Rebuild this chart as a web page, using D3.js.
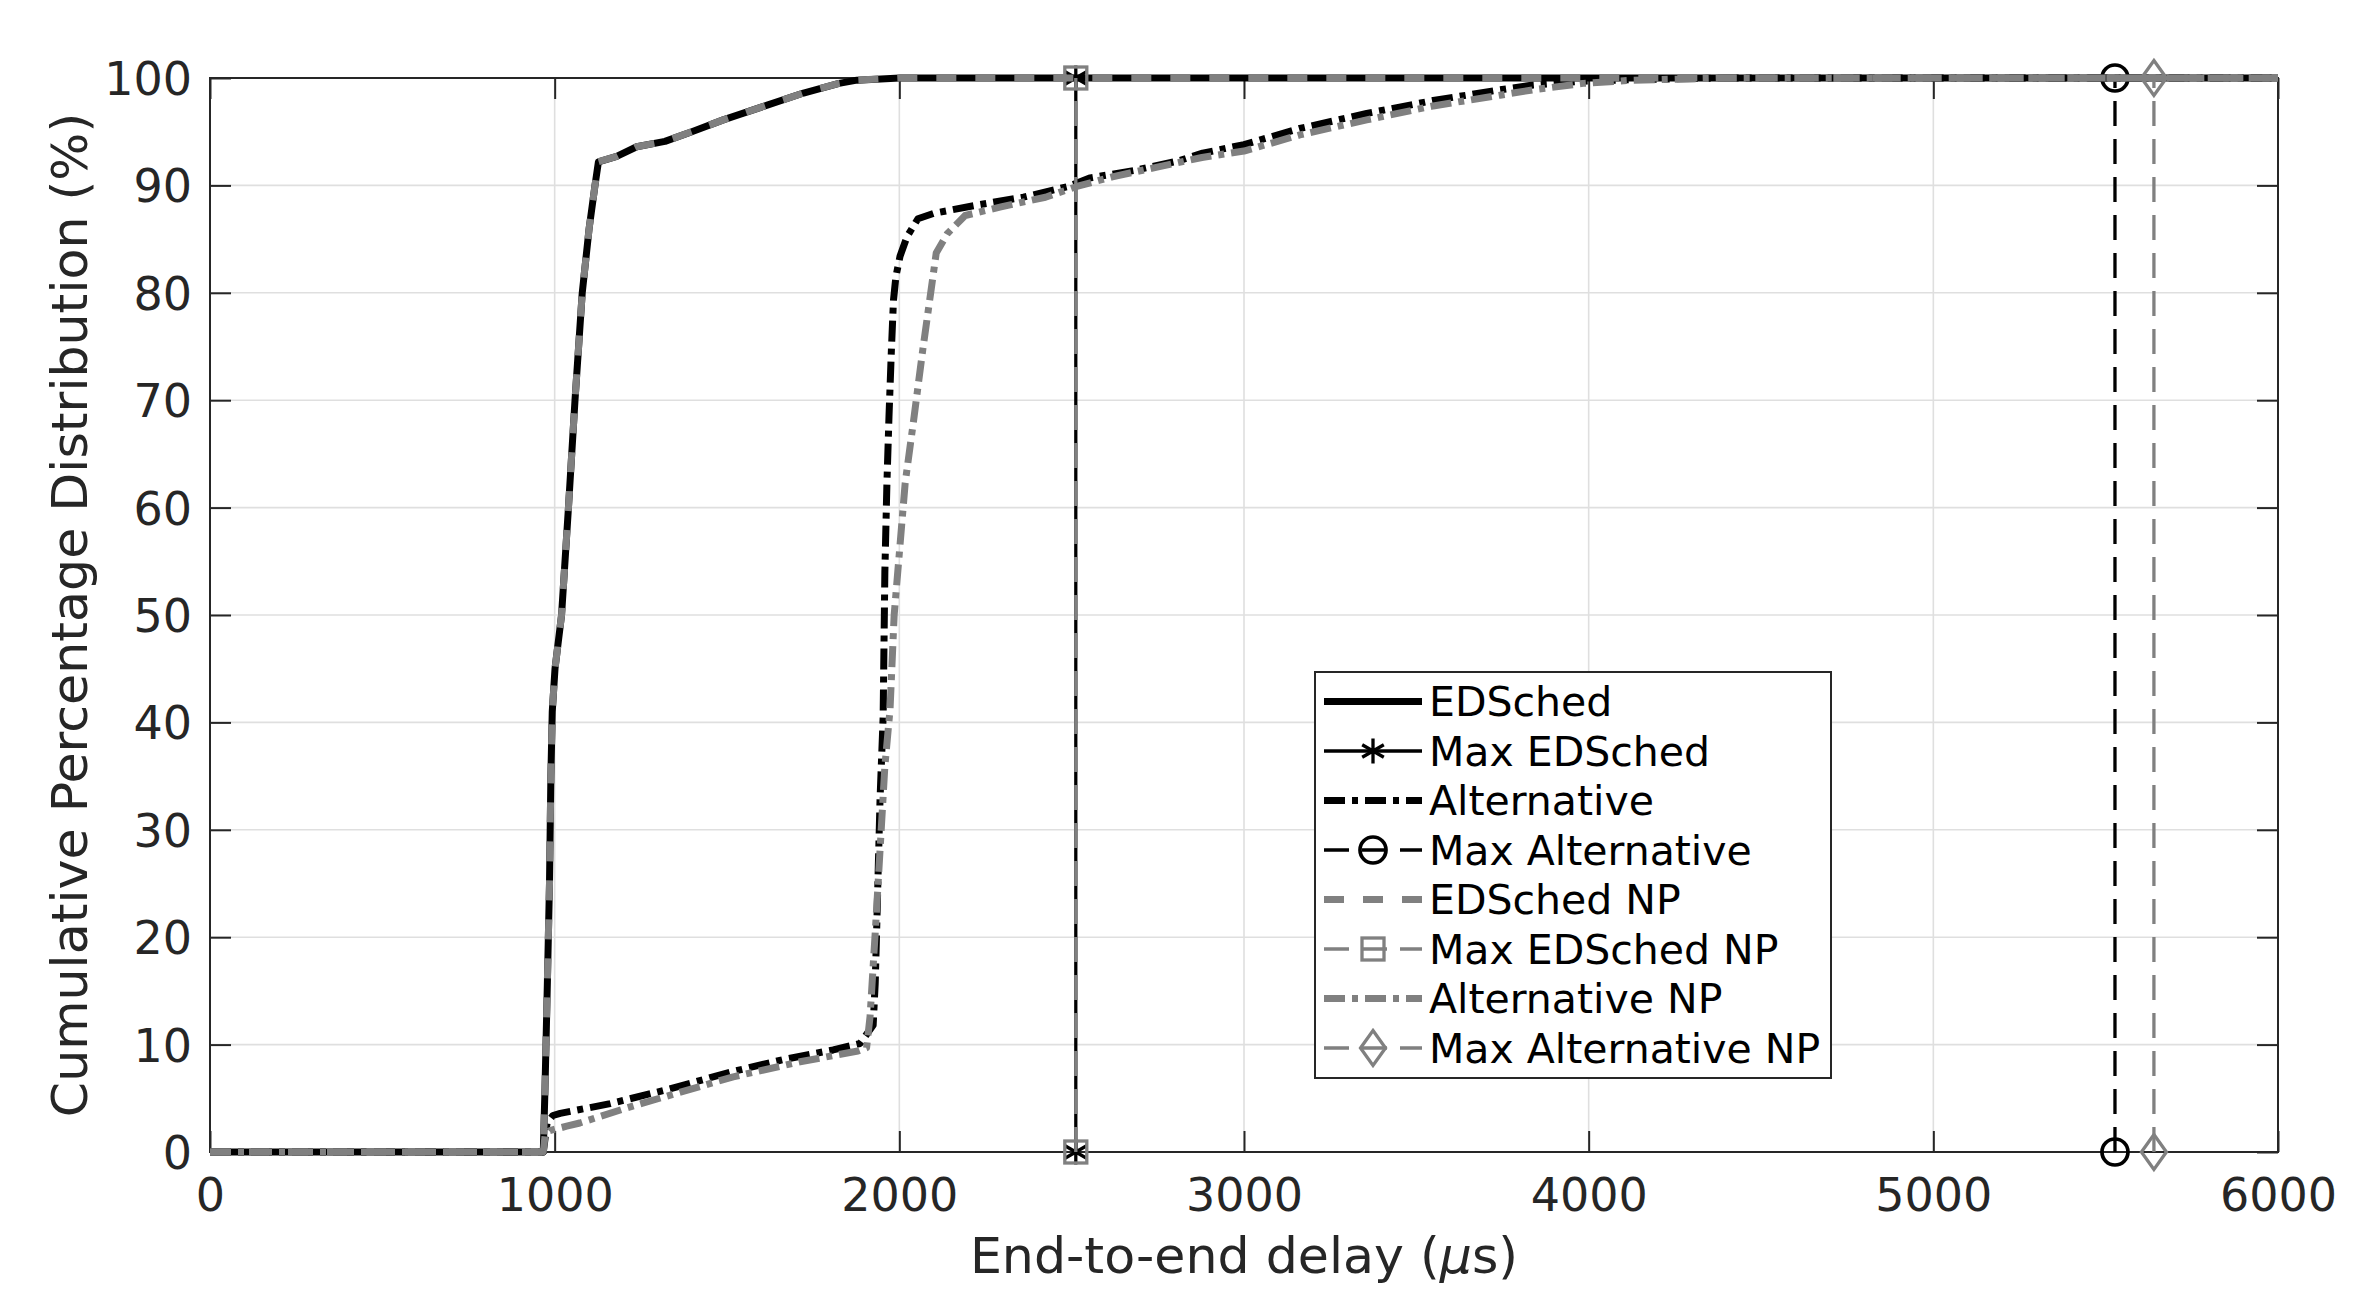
<!DOCTYPE html>
<html>
<head>
<meta charset="utf-8">
<script src="https://cdn.jsdelivr.net/npm/d3@7"></script>
<style>
  html, body { margin: 0; padding: 0; background: #fff; }
  svg { display: block; font-family: "DejaVu Sans", sans-serif; }
</style>
</head>
<body>
<svg id="chart" width="2356" height="1314"></svg>
<script>
// ---------- data ----------
const xTicks = [0, 1000, 2000, 3000, 4000, 5000, 6000];
const yTicks = [0, 10, 20, 30, 40, 50, 60, 70, 80, 90, 100];

const edschedX = [0, 967, 972, 979, 985, 989, 993, 1001, 1020, 1040, 1059, 1080, 1100, 1117, 1127, 1180, 1238, 1320, 1398, 1489, 1619, 1722, 1825, 1877, 2002, 6000];
const edschedY = [0, 0, 6, 16, 25, 35, 41, 45, 50, 60, 70, 80, 86, 90, 92.2, 92.7, 93.6, 94.1, 95.0, 96.1, 97.5, 98.6, 99.5, 99.8, 100, 100];

const edschedNpX = [0, 967, 972, 979, 985, 989, 993, 1001, 1020, 1040, 1059, 1080, 1100, 1117, 1127, 1180, 1238, 1320, 1398, 1489, 1619, 1722, 1825, 1877, 2002, 6000];
const edschedNpY = [0, 0, 6, 16, 25, 35, 41, 45, 50, 60, 70, 80, 86, 90, 92.2, 92.7, 93.6, 94.1, 95.0, 96.1, 97.5, 98.6, 99.5, 99.8, 100, 100];

const altX = [0, 967, 978, 995, 1016, 1161, 1325, 1518, 1663, 1808, 1886, 1924, 1930, 1934, 1939, 1944, 1953, 1958, 1964, 1970, 1977, 1983, 1990, 2002, 2022, 2054, 2100, 2230, 2360, 2490, 2554, 2683, 2812, 2880, 3000, 3162, 3356, 3549, 3743, 3839, 3984, 4129, 4400, 6000];
const altY = [0, 0, 2.7, 3.4, 3.6, 4.5, 5.8, 7.5, 8.6, 9.5, 10.1, 11.8, 15.7, 20.4, 26.6, 32.8, 40.5, 54, 62.3, 68.5, 74.7, 79.3, 81.5, 83.4, 85.2, 86.9, 87.4, 88.2, 88.9, 89.9, 90.7, 91.4, 92.3, 93.0, 93.8, 95.3, 96.7, 97.9, 98.9, 99.35, 99.7, 99.85, 100, 100];

const altNpX = [0, 967, 972, 986, 1035, 1073, 1131, 1209, 1325, 1518, 1712, 1880, 1905, 1915, 1930, 1944, 1958, 1973, 1985, 2017, 2043, 2068, 2088, 2107, 2139, 2191, 2295, 2424, 2515, 2618, 2748, 2878, 3000, 3162, 3356, 3549, 3743, 3839, 3984, 4129, 4400, 6000];
const altNpY = [0, 0, 1.5, 2.0, 2.4, 2.7, 3.3, 4.1, 5.2, 7.0, 8.4, 9.4, 9.7, 12.6, 20.4, 28.1, 35.9, 41.2, 50, 62.3, 68.5, 74.7, 79.3, 83.7, 85.5, 87.2, 88.0, 88.9, 89.9, 90.8, 91.7, 92.6, 93.2, 94.7, 96.1, 97.4, 98.4, 98.9, 99.5, 99.8, 100, 100];

const maxEdschedX = [2512, 2512];
const maxEdschedY = [0, 100];
const maxAltX = [5527, 5527];
const maxAltY = [0, 100];
const maxEdschedNpX = [2512, 2512];
const maxEdschedNpY = [0, 100];
const maxAltNpX = [5640, 5640];
const maxAltNpY = [0, 100];

const seriesNames = ["EDSched", "Max EDSched", "Alternative", "Max Alternative",
                     "EDSched NP", "Max EDSched NP", "Alternative NP", "Max Alternative NP"];

// ---------- styles (not data) ----------
const BLACK = "#000000", GRAY = "#808080", AXC = "#262626";
const THICK = 7, THIN = 3.3;
const DASH = "20,19", DASHDOT = "21,7,6,7", THINDASH = "25,13";

const series = [
  { name: seriesNames[0], xs: edschedX, ys: edschedY, color: BLACK, width: THICK, dash: null, marker: null },
  { name: seriesNames[1], xs: maxEdschedX, ys: maxEdschedY, color: BLACK, width: THIN, dash: null, marker: "star" },
  { name: seriesNames[2], xs: altX, ys: altY, color: BLACK, width: THICK, dash: DASHDOT, marker: null },
  { name: seriesNames[3], xs: maxAltX, ys: maxAltY, color: BLACK, width: THIN, dash: THINDASH, marker: "circle" },
  { name: seriesNames[4], xs: edschedNpX, ys: edschedNpY, color: GRAY, width: THICK, dash: DASH, marker: null },
  { name: seriesNames[5], xs: maxEdschedNpX, ys: maxEdschedNpY, color: GRAY, width: THIN, dash: THINDASH, marker: "square" },
  { name: seriesNames[6], xs: altNpX, ys: altNpY, color: GRAY, width: THICK, dash: DASHDOT, marker: null },
  { name: seriesNames[7], xs: maxAltNpX, ys: maxAltNpY, color: GRAY, width: THIN, dash: THINDASH, marker: "diamond" }
];

// ---------- layout ----------
const L = 210, R = 2278, T = 78, B = 1152;
const svg = d3.select("#chart");
const x = d3.scaleLinear().domain([0, 6000]).range([L, R]);
const y = d3.scaleLinear().domain([0, 100]).range([B, T]);

// grid
const grid = svg.append("g");
grid.selectAll("line.gx").data(xTicks).enter().append("line")
  .attr("x1", d => x(d)).attr("x2", d => x(d)).attr("y1", T).attr("y2", B)
  .attr("stroke", "#dfdfdf").attr("stroke-width", 1.6);
grid.selectAll("line.gy").data(yTicks).enter().append("line")
  .attr("y1", d => y(d)).attr("y2", d => y(d)).attr("x1", L).attr("x2", R)
  .attr("stroke", "#dfdfdf").attr("stroke-width", 1.6);

// axes (ticks inward on all four sides)
const TL = 21;
const axFont = 46;
const gxB = svg.append("g").attr("transform", `translate(0,${B})`)
  .call(d3.axisBottom(x).tickValues(xTicks).tickSize(-TL).tickPadding(0).tickFormat(d3.format("d")));
const gxT = svg.append("g").attr("transform", `translate(0,${T})`)
  .call(d3.axisTop(x).tickValues(xTicks).tickSize(-TL).tickFormat(""));
const gyL = svg.append("g").attr("transform", `translate(${L},0)`)
  .call(d3.axisLeft(y).tickValues(yTicks).tickSize(-TL).tickFormat(d3.format("d")));
const gyR = svg.append("g").attr("transform", `translate(${R},0)`)
  .call(d3.axisRight(y).tickValues(yTicks).tickSize(-TL).tickFormat(""));
[gxB, gxT, gyL, gyR].forEach(g => {
  g.select(".domain").remove();
  g.selectAll(".tick line").attr("stroke", AXC).attr("stroke-width", 2);
  g.selectAll("text").attr("fill", AXC).attr("font-size", axFont).attr("font-family", "DejaVu Sans");
});
gxB.selectAll(".tick text").attr("y", 59).attr("dy", null);
gyL.selectAll(".tick text").attr("x", -18).attr("dy", "0.36em");

// box
svg.append("rect").attr("x", L).attr("y", T).attr("width", R - L).attr("height", B - T)
  .attr("fill", "none").attr("stroke", AXC).attr("stroke-width", 2);

// markers
function drawMarker(g, type, cx, cy, color) {
  const sw = 3.3;
  if (type === "star") {
    const r = 12.5, dx = 10.8, dy = 6.25;
    g.append("path")
      .attr("d", `M${cx},${cy - r}L${cx},${cy + r}M${cx - dx},${cy - dy}L${cx + dx},${cy + dy}M${cx - dx},${cy + dy}L${cx + dx},${cy - dy}`)
      .attr("stroke", color).attr("stroke-width", sw).attr("fill", "none");
  } else if (type === "circle") {
    g.append("circle").attr("cx", cx).attr("cy", cy).attr("r", 13)
      .attr("stroke", color).attr("stroke-width", sw + 0.4).attr("fill", "none");
  } else if (type === "square") {
    g.append("rect").attr("x", cx - 11).attr("y", cy - 11).attr("width", 22).attr("height", 22)
      .attr("stroke", color).attr("stroke-width", sw).attr("fill", "none");
  } else if (type === "diamond") {
    g.append("path")
      .attr("d", `M${cx},${cy - 17.5}L${cx + 12.5},${cy}L${cx},${cy + 17.5}L${cx - 12.5},${cy}Z`)
      .attr("stroke", color).attr("stroke-width", sw).attr("fill", "none");
  }
}

// lines
const lineGen = d3.line().x(d => x(d[0])).y(d => y(d[1]));
const plot = svg.append("g");
series.forEach(s => {
  const pts = s.xs.map((v, i) => [v, s.ys[i]]);
  const p = plot.append("path").datum(pts).attr("d", lineGen)
    .attr("fill", "none").attr("stroke", s.color).attr("stroke-width", s.width)
    .attr("stroke-linejoin", "round");
  if (s.dash) p.attr("stroke-dasharray", s.dash);
  if (s.marker) pts.forEach(d => drawMarker(plot, s.marker, x(d[0]), y(d[1]), s.color));
});

// axis labels
svg.append("text").attr("x", (L + R) / 2).attr("y", 1273).attr("text-anchor", "middle")
  .attr("font-size", 50.6).attr("fill", AXC)
  .html('End-to-end delay (<tspan font-style="italic">\u03BC</tspan>s)');
svg.append("text").attr("transform", `translate(87,${(T + B) / 2}) rotate(-90)`)
  .attr("text-anchor", "middle").attr("font-size", 50.6).attr("fill", AXC)
  .text("Cumulative Percentage Distribution (%)");

// legend
const lg = svg.append("g");
lg.append("rect").attr("x", 1315).attr("y", 672).attr("width", 516).attr("height", 406)
  .attr("fill", "#fff").attr("stroke", AXC).attr("stroke-width", 2);
series.forEach((s, i) => {
  const cy = 701.5 + i * 49.5;
  const ln = lg.append("line").attr("x1", 1324).attr("x2", 1422).attr("y1", cy).attr("y2", cy)
    .attr("stroke", s.color).attr("stroke-width", s.width);
  if (s.dash) ln.attr("stroke-dasharray", s.dash);
  if (s.marker) drawMarker(lg, s.marker, 1373, cy, s.color);
  lg.append("text").attr("x", 1429).attr("y", cy + 14.5).attr("font-size", 41)
    .attr("fill", "#000").text(s.name);
});
</script>
</body>
</html>
